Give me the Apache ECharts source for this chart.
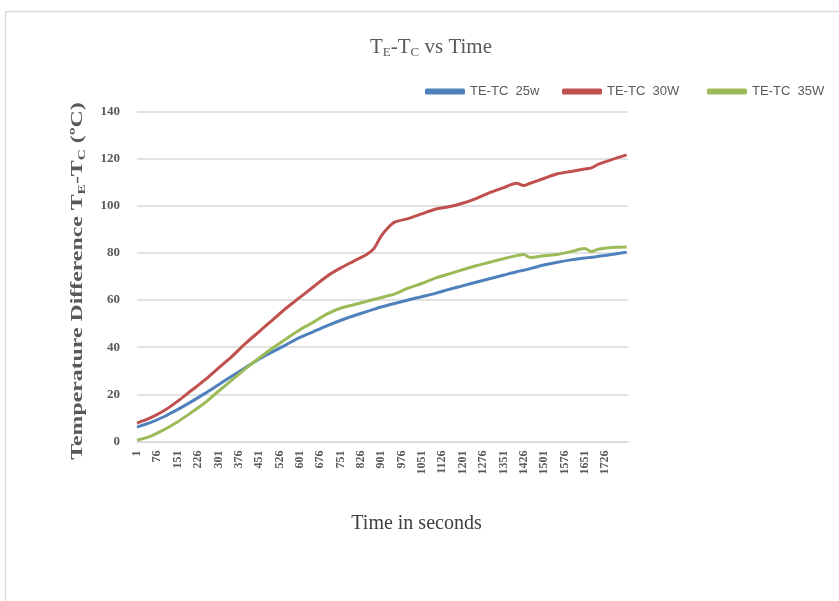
<!DOCTYPE html>
<html>
<head>
<meta charset="utf-8">
<script src="https://cdn.jsdelivr.net/npm/echarts@6/dist/echarts.min.js"></script>
<style>html,body{margin:0;padding:0;background:#fff}#c{width:839px;height:601px}</style>
</head>
<body>
<div id="c"></div>
<script>
// time in seconds (sample points)
const times = [1,50,100,150,200,250,300,350,400,450,500,550,600,650,700,750,800,850,875,900,925,950,1000,1050,1100,1150,1200,1250,1300,1350,1400,1425,1450,1500,1550,1600,1650,1675,1700,1750,1805];
const te25 = [6.1,8,10.5,13.5,16.8,20.3,24,27.7,31.3,34.9,38,41,44,46.5,49,51.3,53.3,55.2,56.1,57,57.8,58.5,60,61.4,62.8,64.5,66,67.5,69,70.5,72,72.6,73.3,74.8,76,77,77.8,78.1,78.5,79.3,80.3];
const te30 = [7.8,10,13,17,21.5,26,31,36,41.5,46.5,51.5,56.5,61,65.5,70,73.5,76.5,79.5,82,87,90.5,93,94.5,96.5,98.5,99.5,101,103,105.5,107.5,109.5,108.5,109.5,111.5,113.5,114.5,115.5,116,117.5,119.5,121.5];
const te35 = [0.6,2.2,5,8.3,12.2,16.3,21.2,26,30.8,35.3,39.5,43.5,47.3,50.5,54,56.5,58,59.5,60.3,61,61.8,62.5,65,67,69.3,71,72.8,74.5,76,77.5,78.8,79.3,78,78.8,79.3,80.5,81.8,80.5,81.5,82.3,82.5];
const xTicks = [1,76,151,226,301,376,451,526,601,676,751,826,901,976,1051,1126,1201,1276,1351,1426,1501,1576,1651,1726];
const yTicks = [0,20,40,60,80,100,120,140];
const seriesNames = ['TE-TC  25w','TE-TC  30W','TE-TC  35W'];
const colors = ['#4F81BD','#C0504D','#9BBB59'];
const legendLefts = [420,557,702];

const pairs = arr => times.map((t,i)=>[t,arr[i]]);
const serif = '"Liberation Serif","DejaVu Serif",serif';
const chart = echarts.init(document.getElementById('c'));
chart.setOption({
  animation:false,
  backgroundColor:'#fff',
  graphic:[
    {type:'rect',shape:{x:5.5,y:11.5,width:900,height:700},style:{fill:'none',stroke:'#d9d9d9',lineWidth:1.5},silent:true},
    {type:'text', x:78, y:281, rotation:Math.PI/2, scaleX:1.4, silent:true,
     style:{
       text:'{n|Temperature Difference T}{s|E}{n|-T}{s|C}{n| (ºC)}',
       align:'center', verticalAlign:'middle',
       rich:{
         n:{fontFamily:serif,fontSize:17,fontWeight:'bold',fill:'#595959',lineHeight:20},
         s:{fontFamily:serif,fontSize:11,fontWeight:'bold',fill:'#595959',padding:[9,0,0,0],lineHeight:20}
       }
     }}
  ],
  title:{
    text:'{n|T}{s|E}{n|-T}{s|C}{n| vs Time}',
    left:365, top:30,
    textStyle:{rich:{
      n:{fontFamily:serif,fontSize:21,fontWeight:'normal',color:'#595959',lineHeight:24},
      s:{fontFamily:serif,fontSize:13,fontWeight:'normal',color:'#595959',padding:[12,0,0,0],lineHeight:24}
    }}
  },
  legend:seriesNames.map((n,i)=>({
    left:legendLefts[i], top:80, itemWidth:40, itemHeight:6,
    icon:'roundRect',
    textStyle:{fontFamily:'"Liberation Sans Narrow","Liberation Sans",sans-serif',fontSize:13,color:'#595959'},
    data:[n]
  })),
  grid:{left:137,right:211,top:111.3,bottom:159.5,containLabel:false},
  xAxis:{
    type:'value', min:1, max:1810,
    name:'Time in seconds', nameLocation:'middle', nameGap:72,
    nameTextStyle:{fontFamily:serif,fontSize:20,color:'#404040',padding:[0,0,0,68]},
    axisLine:{show:true,lineStyle:{color:'#d9d9d9',width:1.5}},
    axisTick:{show:false},
    splitLine:{show:false},
    axisLabel:{customValues:xTicks,formatter:v=>String(v),rotate:90,fontFamily:serif,fontSize:12,fontWeight:'bold',color:'#595959',margin:9}
  },
  yAxis:{
    type:'value', min:0, max:140, interval:20,
    axisLine:{show:false}, axisTick:{show:false},
    splitLine:{lineStyle:{color:'#d9d9d9',width:1.5}},
    axisLabel:{customValues:yTicks,fontFamily:serif,fontSize:13,fontWeight:'bold',color:'#595959',margin:17}
  },
  series:[te25,te30,te35].map((d,i)=>({
    name:seriesNames[i], type:'line', data:pairs(d), smooth:0.3, showSymbol:false,
    lineStyle:{color:colors[i],width:3}, itemStyle:{color:colors[i]}
  }))
});
</script>
</body>
</html>
